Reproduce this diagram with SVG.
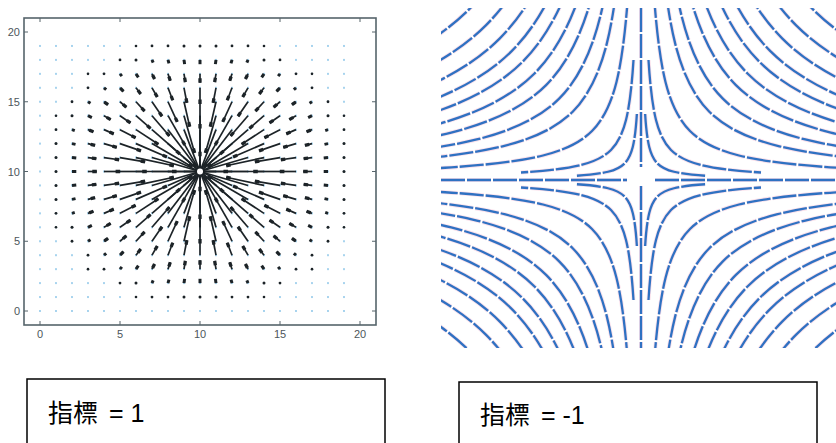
<svg xmlns="http://www.w3.org/2000/svg" xmlns:xlink="http://www.w3.org/1999/xlink" width="836" height="443" viewBox="0 0 836 443">
<style>
.ax{fill:none;stroke:#56646b;stroke-width:1.6}
.tk{stroke:#56646b;stroke-width:1}
.tl{font-family:"Liberation Sans",Arial,sans-serif;font-size:11px;fill:#4d565b}
.q{fill:none;stroke:#1c2327;stroke-linecap:butt}
.s{stroke-width:1.7}
.h{stroke-width:3.3}
.b{stroke-width:3}
.dd{fill:#1c2327;stroke:none}
.b1{stroke-dasharray:4.3 999}.b2{stroke-dasharray:3.6 999}.b3{stroke-dasharray:2.9 999}
.k13.s{stroke-dasharray:46.6 999}.k13.h{stroke-dasharray:0 42.1 4.5 999}
.k16.s{stroke-dasharray:40.5 999}.k16.h{stroke-dasharray:0 36 4.5 999}
.k17.s{stroke-dasharray:38.7 999}.k17.h{stroke-dasharray:0 34.2 4.5 999}
.k18.s{stroke-dasharray:36.9 999}.k18.h{stroke-dasharray:0 32.4 4.5 999}
.k20.s{stroke-dasharray:33.7 999}.k20.h{stroke-dasharray:0 29.2 4.5 999}
.k25.s{stroke-dasharray:26.7 999}.k25.h{stroke-dasharray:0 22.2 4.5 999}
.k26.s{stroke-dasharray:25.5 999}.k26.h{stroke-dasharray:0 21 4.5 999}
.k29.s{stroke-dasharray:22.2 999}.k29.h{stroke-dasharray:0 17.7 4.5 999}
.k32.s{stroke-dasharray:19.3 999}.k32.h{stroke-dasharray:0 14.8 4.5 999}
.k34.s{stroke-dasharray:17.6 999}.k34.h{stroke-dasharray:0 13.1 4.5 999}
.k36.s{stroke-dasharray:16.1 999}.k36.h{stroke-dasharray:0 11.6 4.5 999}
.k37.s{stroke-dasharray:15.3 999}.k37.h{stroke-dasharray:0 10.8 4.5 999}
.k40.s{stroke-dasharray:13.3 999}.k40.h{stroke-dasharray:0 8.8 4.5 999}
.k41.s{stroke-dasharray:12.7 999}.k41.h{stroke-dasharray:0 8.2 4.5 999}
.k45.s{stroke-dasharray:10.6 999}.k45.h{stroke-dasharray:0 6.1 4.5 999}
.k49.s{stroke-dasharray:8.8 999}.k49.h{stroke-dasharray:0 4.3 4.5 999}
.k50.s{stroke-dasharray:8.4 999}.k50.h{stroke-dasharray:0 3.9 4.5 999}
.k52.s{stroke-dasharray:7.7 999}.k52.h{stroke-dasharray:0 3.2 4.5 999}
.k53.s{stroke-dasharray:7.3 999}.k53.h{stroke-dasharray:0 2.8 4.5 999}
.k58.s{stroke-dasharray:5.8 999}.k58.h{stroke-dasharray:0 1.3 4.5 999}
.k61.s{stroke-dasharray:5 999}.k61.h{stroke-dasharray:0 0.5 4.5 999}
.halo{fill:none;stroke:#f1a6c4;stroke-opacity:0.35;stroke-width:4;stroke-dasharray:24 2}
.blue{fill:none;stroke:#2f71c2;stroke-width:2.3;stroke-dasharray:24 2}
.box{fill:#fff;stroke:#000;stroke-width:1.5}
.lbl{font-family:"Liberation Sans","Noto Sans CJK TC",sans-serif;font-size:25px;fill:#000}
</style>
<defs>
<pattern id="ld" patternUnits="userSpaceOnUse" x="32" y="25.025" width="16" height="13.95"><circle cx="8" cy="6.975" r="0.9" fill="#7fbfe6"/></pattern>
<g id="quad">
<path class="s k17" d="M64-13.95L0 0"/><path class="h k17" d="M64-13.95L0 0"/>
<path class="s k26" d="M80-13.95L0 0"/><path class="h k26" d="M80-13.95L0 0"/>
<path class="s k37" d="M96-13.95L0 0"/><path class="h k37" d="M96-13.95L0 0"/>
<path class="s k50" d="M112-13.95L0 0"/><path class="h k50" d="M112-13.95L0 0"/>
<path class="s k13" d="M48-27.9L0 0"/><path class="h k13" d="M48-27.9L0 0"/>
<path class="s k20" d="M64-27.9L0 0"/><path class="h k20" d="M64-27.9L0 0"/>
<path class="s k29" d="M80-27.9L0 0"/><path class="h k29" d="M80-27.9L0 0"/>
<path class="s k40" d="M96-27.9L0 0"/><path class="h k40" d="M96-27.9L0 0"/>
<path class="s k53" d="M112-27.9L0 0"/><path class="h k53" d="M112-27.9L0 0"/>
<path class="s k13" d="M32-41.85L0 0"/><path class="h k13" d="M32-41.85L0 0"/>
<path class="s k18" d="M48-41.85L0 0"/><path class="h k18" d="M48-41.85L0 0"/>
<path class="s k25" d="M64-41.85L0 0"/><path class="h k25" d="M64-41.85L0 0"/>
<path class="s k34" d="M80-41.85L0 0"/><path class="h k34" d="M80-41.85L0 0"/>
<path class="s k45" d="M96-41.85L0 0"/><path class="h k45" d="M96-41.85L0 0"/>
<path class="s k58" d="M112-41.85L0 0"/><path class="h k58" d="M112-41.85L0 0"/>
<path class="s k17" d="M16-55.8L0 0"/><path class="h k17" d="M16-55.8L0 0"/>
<path class="s k20" d="M32-55.8L0 0"/><path class="h k20" d="M32-55.8L0 0"/>
<path class="s k25" d="M48-55.8L0 0"/><path class="h k25" d="M48-55.8L0 0"/>
<path class="s k32" d="M64-55.8L0 0"/><path class="h k32" d="M64-55.8L0 0"/>
<path class="s k41" d="M80-55.8L0 0"/><path class="h k41" d="M80-55.8L0 0"/>
<path class="s k52" d="M96-55.8L0 0"/><path class="h k52" d="M96-55.8L0 0"/>
<path class="s k26" d="M16-69.75L0 0"/><path class="h k26" d="M16-69.75L0 0"/>
<path class="s k29" d="M32-69.75L0 0"/><path class="h k29" d="M32-69.75L0 0"/>
<path class="s k34" d="M48-69.75L0 0"/><path class="h k34" d="M48-69.75L0 0"/>
<path class="s k41" d="M64-69.75L0 0"/><path class="h k41" d="M64-69.75L0 0"/>
<path class="s k50" d="M80-69.75L0 0"/><path class="h k50" d="M80-69.75L0 0"/>
<path class="s k61" d="M96-69.75L0 0"/><path class="h k61" d="M96-69.75L0 0"/>
<path class="s k37" d="M16-83.7L0 0"/><path class="h k37" d="M16-83.7L0 0"/>
<path class="s k40" d="M32-83.7L0 0"/><path class="h k40" d="M32-83.7L0 0"/>
<path class="s k45" d="M48-83.7L0 0"/><path class="h k45" d="M48-83.7L0 0"/>
<path class="s k52" d="M64-83.7L0 0"/><path class="h k52" d="M64-83.7L0 0"/>
<path class="s k61" d="M80-83.7L0 0"/><path class="h k61" d="M80-83.7L0 0"/>
<path class="s k50" d="M16-97.65L0 0"/><path class="h k50" d="M16-97.65L0 0"/>
<path class="s k53" d="M32-97.65L0 0"/><path class="h k53" d="M32-97.65L0 0"/>
<path class="s k58" d="M48-97.65L0 0"/><path class="h k58" d="M48-97.65L0 0"/>
<path class="s" d="M16-13.95L0 0"/><path class="s" d="M32-13.95L0 0"/><path class="s" d="M48-13.95L0 0"/>
<path class="s" d="M16-27.9L0 0"/><path class="s" d="M32-27.9L0 0"/><path class="s" d="M16-41.85L0 0"/>
<path class="b b1" d="M128-13.95L0 0"/><path class="b b2" d="M128-27.9L0 0"/><path class="b b3" d="M128-41.85L0 0"/>
<path class="b b1" d="M112-55.8L0 0"/><path class="b b3" d="M112-69.75L0 0"/><path class="b b3" d="M96-83.7L0 0"/>
<path class="b b1" d="M64-97.65L0 0"/><path class="b b3" d="M80-97.65L0 0"/>
<path class="b b1" d="M16-111.6L0 0"/><path class="b b2" d="M32-111.6L0 0"/><path class="b b3" d="M48-111.6L0 0"/>
<circle class="dd" cx="144" cy="-13.95" r="1.5"/><circle class="dd" cx="144" cy="-27.9" r="1.5"/><circle class="dd" cx="144" cy="-41.85" r="1.4"/>
<circle class="dd" cx="128" cy="-55.8" r="1.5"/><circle class="dd" cx="144" cy="-55.8" r="1.3"/><circle class="dd" cx="128" cy="-69.75" r="1.4"/>
<circle class="dd" cx="112" cy="-83.7" r="1.4"/><circle class="dd" cx="96" cy="-97.65" r="1.4"/><circle class="dd" cx="112" cy="-97.65" r="1.3"/>
<circle class="dd" cx="64" cy="-111.6" r="1.5"/><circle class="dd" cx="80" cy="-111.6" r="1.4"/>
<circle class="dd" cx="16" cy="-125.55" r="1.5"/><circle class="dd" cx="32" cy="-125.55" r="1.4"/><circle class="dd" cx="48" cy="-125.55" r="1.4"/><circle class="dd" cx="64" cy="-125.55" r="1.3"/>
</g>
<g id="axx">
<path class="s" d="M16 0L0 0"/><path class="s" d="M32 0L0 0"/><path class="s" d="M48 0L0 0"/>
<path class="s k16" d="M64 0L0 0"/><path class="h k16" d="M64 0L0 0"/>
<path class="s k25" d="M80 0L0 0"/><path class="h k25" d="M80 0L0 0"/>
<path class="s k36" d="M96 0L0 0"/><path class="h k36" d="M96 0L0 0"/>
<path class="s k49" d="M112 0L0 0"/><path class="h k49" d="M112 0L0 0"/>
<path class="b b1" d="M128 0L0 0"/>
<circle class="dd" cx="144" cy="0" r="1.5"/>
</g>
<g id="axy">
<path class="s" d="M0-13.95L0 0"/><path class="s" d="M0-27.9L0 0"/><path class="s" d="M0-41.85L0 0"/>
<path class="s k16" d="M0-55.8L0 0"/><path class="h k16" d="M0-55.8L0 0"/>
<path class="s k25" d="M0-69.75L0 0"/><path class="h k25" d="M0-69.75L0 0"/>
<path class="s k36" d="M0-83.7L0 0"/><path class="h k36" d="M0-83.7L0 0"/>
<path class="s k49" d="M0-97.65L0 0"/><path class="h k49" d="M0-97.65L0 0"/>
<path class="b b1" d="M0-111.6L0 0"/>
<circle class="dd" cx="0" cy="-125.55" r="1.5"/>
</g>
<path id="hb" d="M0.0625-16Q0.08333-10.6667 0.125-8Q0.16667-5.3333 0.25-4Q0.33333-2.66667 0.5-2Q0.66667-1.33333 1-1Q1.33333-0.66667 2-0.5Q2.66667-0.33333 4-0.25Q5.33333-0.16667 8-0.125Q10.6667-0.08333 16-0.0625" vector-effect="non-scaling-stroke"/>
<path id="hbi" d="M0.25-4Q0.33333-2.66667 0.5-2Q0.66667-1.33333 1-1Q1.33333-0.66667 2-0.5Q2.66667-0.33333 4-0.25" vector-effect="non-scaling-stroke"/>
<g id="hq">
<use href="#hbi" transform="scale(16.5)"/>
<use href="#hbi" transform="scale(30)"/>
<use href="#hb" transform="scale(49)"/>
<use href="#hb" transform="scale(68.3)"/>
<use href="#hb" transform="scale(81.6)"/>
<use href="#hb" transform="scale(94.9)"/>
<use href="#hb" transform="scale(106.5)"/>
<use href="#hb" transform="scale(118.3)"/>
<use href="#hb" transform="scale(129.1)"/>
<use href="#hb" transform="scale(141.4)"/>
<use href="#hb" transform="scale(154.9)"/>
<use href="#hb" transform="scale(171.3)"/>
</g>
<g id="hall">
<use href="#hq" transform="translate(641,180)"/>
<use href="#hq" transform="translate(641,180) scale(-1,1)"/>
<use href="#hq" transform="translate(641,180) scale(1,-1)"/>
<use href="#hq" transform="translate(641,180) scale(-1,-1)"/>
<path d="M441 180H627M655 180H841M641 8V167M641 186V348"/>
</g>
<clipPath id="rc"><rect x="441" y="8" width="400" height="340"/></clipPath>
</defs>

<g id="quiver-plot">
<rect x="32" y="38.975" width="320" height="279" fill="url(#ld)"/>
<g class="q">
<use href="#quad" transform="translate(200,171.5)"/>
<use href="#quad" transform="translate(200,171.5) scale(-1,1)"/>
<use href="#quad" transform="translate(200,171.5) scale(1,-1)"/>
<use href="#quad" transform="translate(200,171.5) scale(-1,-1)"/>
<use href="#axx" transform="translate(200,171.5)"/>
<use href="#axx" transform="translate(200,171.5) scale(-1,1)"/>
<use href="#axy" transform="translate(200,171.5)"/>
<use href="#axy" transform="translate(200,171.5) scale(1,-1)"/>
</g>
<circle cx="200" cy="171.5" r="3" fill="#fff"/>
<rect class="ax" x="24" y="18" width="352" height="307"/>
<path class="tk" d="M40 325v-4M120 325v-4M200 325v-4M280 325v-4M360 325v-4M40 18v4M120 18v4M200 18v4M280 18v4M360 18v4M24 32h4M24 101.75h4M24 171.5h4M24 241.25h4M24 311h4M376 32h-4M376 101.75h-4M376 171.5h-4M376 241.25h-4M376 311h-4"/>
<g class="tl" text-anchor="end">
<text x="20" y="36">20</text><text x="20" y="105.75">15</text><text x="20" y="175.5">10</text><text x="20" y="245.25">5</text><text x="20" y="315">0</text>
</g>
<g class="tl" text-anchor="middle">
<text x="40" y="337.5">0</text><text x="120" y="337.5">5</text><text x="200" y="337.5">10</text><text x="280" y="337.5">15</text><text x="360" y="337.5">20</text>
</g>
</g>

<g id="saddle-plot" clip-path="url(#rc)">
<g class="halo"><use href="#hall"/></g>
<g class="blue"><use href="#hall"/></g>
</g>

<g id="label-1">
<rect class="box" x="27" y="379" width="358" height="80"/>
<text class="lbl" x="48" y="422">指標<tspan x="109">= 1</tspan></text>
</g>
<g id="label-2">
<rect class="box" x="459" y="382" width="358" height="80"/>
<text class="lbl" x="480" y="424">指標<tspan x="541">= -1</tspan></text>
</g>
</svg>
